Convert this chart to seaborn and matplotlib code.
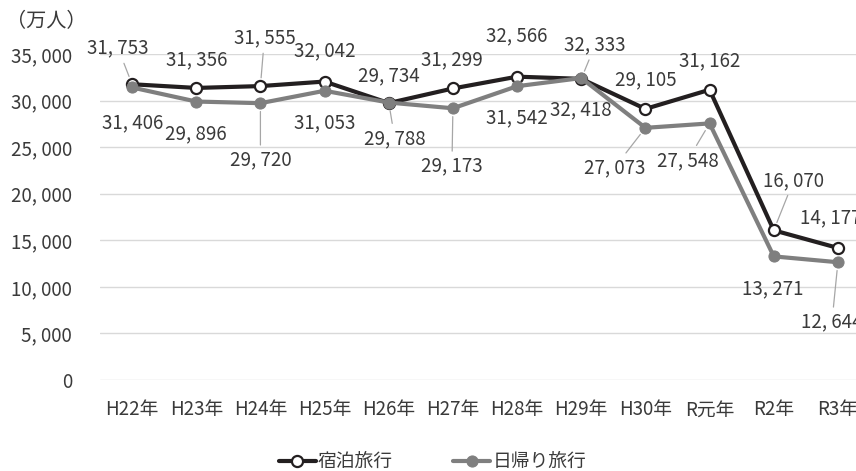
import pandas as pd
import seaborn as sns
import matplotlib.pyplot as plt
import matplotlib.ticker as mticker


YEARS = ['H22年', 'H23年', 'H24年', 'H25年', 'H26年', 'H27年',
         'H28年', 'H29年', 'H30年', 'R元年', 'R2年', 'R3年']
STAY = [31753, 31356, 31555, 32042, 29734, 31299,
        32566, 32333, 29105, 31162, 16070, 14177]
DAYTRIP = [31406, 29896, 29720, 31053, 29788, 29173,
           31542, 32418, 27073, 27548, 13271, 12644]
SERIES = ['宿泊旅行', '日帰り旅行']
Y_TICKS = [0, 5000, 10000, 15000, 20000, 25000, 30000, 35000]

# label placement (pixel offsets from the point) and whether a leader line is drawn
STAY_OFFSETS = [(-14, 36), (0, 28), (4, 48), (0, 31), (0, 27), (-1, 29),
                (0, 41), (14, 34), (0, 29), (0, 29), (20, 50), (-7, 30)]
STAY_LEADER = [True, False, True, False, False, False,
               False, True, False, False, True, False]
DAY_OFFSETS = [(1, -35), (0, -32), (0, -57), (0, -32), (6, -36), (-1, -58),
               (0, -32), (0, -32), (-31, -40), (-22, -37), (-1, -32), (-6, -60)]
DAY_LEADER = [False, False, True, False, True, True,
              False, False, True, True, False, True]

TEXT_C = '#3a3a3a'
STAY_C = '#231f20'
DAY_C = '#7f7f7f'

sns.set_theme(style='white')
plt.rcParams['font.family'] = ['Noto Sans CJK JP', 'DejaVu Sans']
plt.rcParams['text.color'] = TEXT_C
FS = 13.5


def fmt(v):
    return f'{int(v):,}'.replace(',', ', ')


def label_points(ax, values, offsets, leaders):
    for i, (v, (dx, dy), lead) in enumerate(zip(values, offsets, leaders)):
        props = None
        if lead:
            props = dict(arrowstyle='-', color='#a6a6a6', lw=0.9,
                         shrinkA=1, shrinkB=6)
        ax.annotate(fmt(v), xy=(i, v), xytext=(dx, dy),
                    textcoords='offset pixels', ha='center', va='center',
                    fontsize=FS, color=TEXT_C, arrowprops=props,
                    annotation_clip=False)


def main():
    df = pd.DataFrame({'年': YEARS, SERIES[0]: STAY, SERIES[1]: DAYTRIP})

    fig = plt.figure(figsize=(8.56, 4.71), dpi=100)
    ax = fig.add_axes([100 / 856, 1 - 380 / 471, 770 / 856, 326 / 471])

    sns.lineplot(data=df, x='年', y=SERIES[0], ax=ax, color=STAY_C, lw=3,
                 marker='o', markersize=10, markerfacecolor='white',
                 markeredgecolor=STAY_C, markeredgewidth=1.6,
                 label=SERIES[0], zorder=3)
    sns.lineplot(data=df, x='年', y=SERIES[1], ax=ax, color=DAY_C, lw=3,
                 marker='o', markersize=10, markerfacecolor=DAY_C,
                 markeredgecolor=DAY_C, label=SERIES[1], zorder=4)

    ax.set_xlim(-0.5, len(YEARS) - 0.5)
    ax.set_ylim(0, 35000)
    ax.set_yticks(Y_TICKS)
    ax.yaxis.set_major_formatter(mticker.FuncFormatter(lambda v, p: fmt(v)))
    ax.grid(axis='y', color='#d9d9d9', lw=1)
    ax.grid(axis='x', visible=False)
    for s in ax.spines.values():
        s.set_visible(False)
    ax.tick_params(axis='y', length=0, pad=20, labelsize=FS, labelcolor=TEXT_C)
    ax.tick_params(axis='x', length=0, pad=14, labelsize=FS, labelcolor=TEXT_C)
    ax.set_xlabel('')
    ax.set_ylabel('')

    label_points(ax, STAY, STAY_OFFSETS, STAY_LEADER)
    label_points(ax, DAYTRIP, DAY_OFFSETS, DAY_LEADER)

    fig.text(6 / 856, 1 - 22 / 471, '（万人）', ha='left', va='center',
             fontsize=14.5, color=TEXT_C)

    handles, labels = ax.get_legend_handles_labels()
    ax.get_legend().remove()
    for h in handles:
        h.set_markersize(8)
    fig.legend(handles, labels, loc='center', bbox_to_anchor=(0.505, 0.02),
               ncol=2, frameon=False, fontsize=FS, handlelength=2,
               handletextpad=0.1, columnspacing=3.2)

    fig.savefig('out.png', dpi=100)


if __name__ == '__main__':
    main()
